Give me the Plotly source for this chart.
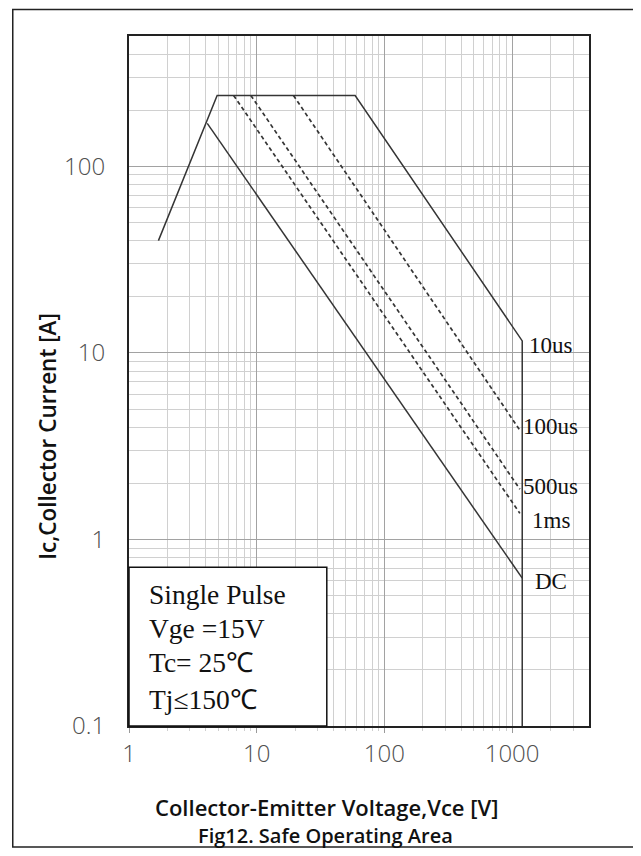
import math
import plotly.graph_objects as go

# ---- axis ticks ----
x_ticks = [1, 10, 100, 1000]
x_ticktext = ["1", "10", "100", "1000"]
y_ticks = [0.1, 1, 10, 100]
y_ticktext = ["0.1", "1", "10", "100"]
x_max = 4000
y_min, y_max = 0.1, 500

# ---- curves (Vce [V], Ic [A]) ----
soa_vce = [1.7, 4.9, 59, 1200, 1200]       # 10us boundary (solid)
soa_ic = [40, 240, 240, 11.6, 0.1]
dc_vce = [4.1, 1200]
dc_ic = [170, 0.62]
p100_vce = [19.4, 1150]
p100_ic = [240, 3.85]
p500_vce = [9.0, 1150]
p500_ic = [240, 1.86]
p1ms_vce = [6.6, 1150]
p1ms_ic = [240, 1.38]

curve_labels = ["10us", "100us", "500us", "1ms", "DC"]
label_ic = [11.0, 4.01, 1.93, 1.27, 0.593]
label_vce = 2000

box_lines = ["Single Pulse", "Vge =15V", "Tc= 25\u2103", "Tj\u2264150\u2103"]

LINE = "#353535"

fig = go.Figure()
fig.add_trace(go.Scatter(x=soa_vce, y=soa_ic, mode="lines",
                         line=dict(color=LINE, width=1.5), hoverinfo="skip"))
fig.add_trace(go.Scatter(x=dc_vce, y=dc_ic, mode="lines",
                         line=dict(color=LINE, width=1.5), hoverinfo="skip"))
for vx, iy in [(p100_vce, p100_ic), (p500_vce, p500_ic), (p1ms_vce, p1ms_ic)]:
    fig.add_trace(go.Scatter(x=vx, y=iy, mode="lines",
                             line=dict(color=LINE, width=1.7, dash="4px,3px"),
                             hoverinfo="skip"))

def minor_vals(lo_exp, hi_exp, vmax):
    out = []
    for k in range(lo_exp, hi_exp + 1):
        for m in range(2, 10):
            v = m * 10 ** k
            if v < vmax:
                out.append(v)
    return out

TICKFONT = dict(family="Open Sans", size=24, color="#505050", weight=300)

fig.update_xaxes(
    type="log", range=[0, math.log10(x_max)],
    tickmode="array", tickvals=x_ticks, ticktext=x_ticktext,
    showgrid=True, gridcolor="#a2a2a2", gridwidth=1.2,
    ticks="outside", ticklen=5, tickcolor="#9a9a9a", tickwidth=1.3,
    minor=dict(tickmode="array", tickvals=minor_vals(0, 3, x_max), showgrid=True,
               gridcolor="#d0d0d0", gridwidth=1.2, ticks="outside", ticklen=3,
               tickcolor="#cfcfcf"),
    showline=True, linecolor="#222222", linewidth=2, mirror=True,
    tickfont=TICKFONT, ticklabelstandoff=0, zeroline=False,
)
fig.update_yaxes(
    type="log", range=[math.log10(y_min), math.log10(y_max)],
    tickmode="array", tickvals=y_ticks, ticktext=y_ticktext,
    showgrid=True, gridcolor="#a2a2a2", gridwidth=1.2,
    ticks="",
    minor=dict(tickmode="array", tickvals=minor_vals(-1, 2, y_max + 1), showgrid=True,
               gridcolor="#d0d0d0", gridwidth=1.2),
    showline=True, linecolor="#222222", linewidth=2.2, mirror=True,
    tickfont=TICKFONT, ticklabelstandoff=17, zeroline=False,
)

shapes = [
    # condition box
    dict(type="rect", xref="paper", yref="paper", x0=0, x1=0.43, y0=0, y1=0.23,
         fillcolor="white", line=dict(color="#111111", width=1.5), layer="above"),
    # outer frame
    dict(type="rect", xref="paper", yref="paper", x0=-0.2527, x1=1.1052,
         y0=-0.1755, y1=1.0385, line=dict(color="#222222", width=1.5),
         fillcolor="rgba(0,0,0,0)", layer="below"),
]

annotations = []
box_y = [0.19, 0.1417, 0.0917, 0.0377]
for txt, yy in zip(box_lines, box_y):
    annotations.append(dict(text=txt, xref="paper", yref="paper", x=0.04, y=yy,
                            xanchor="left", yanchor="middle", showarrow=False,
                            font=dict(family="Liberation Serif", size=27.5, color="#111111")))
for txt, iy in zip(curve_labels, label_ic):
    annotations.append(dict(text=txt, xref="x", yref="y", x=math.log10(label_vce),
                            y=math.log10(iy), xanchor="center", yanchor="middle",
                            showarrow=False,
                            font=dict(family="Liberation Serif", size=23, color="#111111")))
TITLEFONT = dict(family="Open Sans", color="#111111", weight=600)
annotations.append(dict(text="Ic,Collector Current [A]", xref="paper", yref="paper",
                        x=-0.1768, y=0.42, textangle=-90, showarrow=False,
                        xanchor="center", yanchor="middle",
                        font=dict(TITLEFONT, size=22.5)))
annotations.append(dict(text="Collector-Emitter Voltage,Vce [V]", xref="paper", yref="paper",
                        x=0.43, y=-0.1167, showarrow=False,
                        xanchor="center", yanchor="middle",
                        font=dict(TITLEFONT, size=22)))
annotations.append(dict(text="Fig12. Safe Operating Area", xref="paper", yref="paper",
                        x=0.428, y=-0.158, showarrow=False,
                        xanchor="center", yanchor="middle",
                        font=dict(TITLEFONT, size=20)))

# page body has an 8px margin: size and margins compensate for it
fig.update_layout(
    width=633, height=840,
    margin=dict(l=120.5, r=51.5, t=27.7, b=122),
    paper_bgcolor="white", plot_bgcolor="white",
    showlegend=False,
    shapes=shapes, annotations=annotations,
)

fig.write_html("out.html")
